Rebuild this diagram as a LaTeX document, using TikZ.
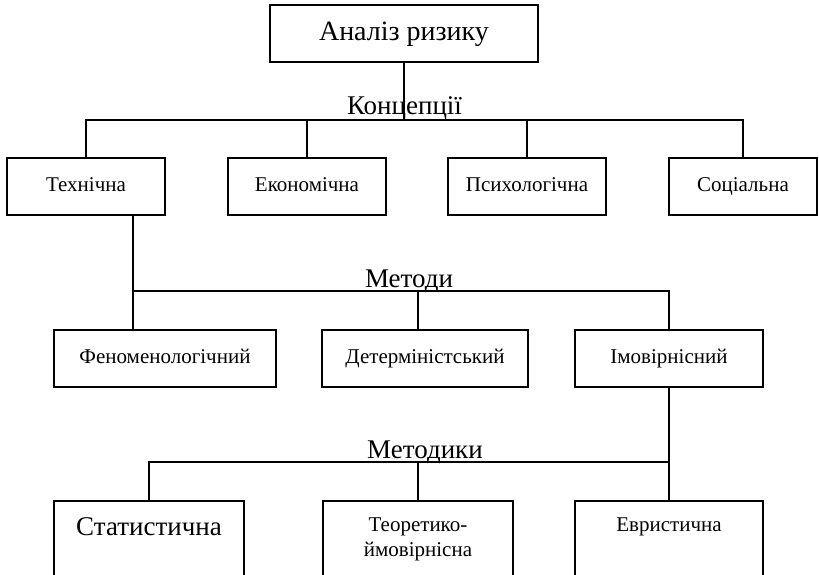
\documentclass[tikz,border=0pt]{standalone}
\usepackage{fontspec}
\setmainfont{Liberation Serif}
\usetikzlibrary{positioning,calc}

\begin{document}
\begin{tikzpicture}[
  x=1pt, y=-1pt,
  line width=2pt,
  box/.style={draw, rectangle, inner sep=0pt, minimum height=57pt,
    text height=14pt, text depth=4pt,
    font=\fontsize{21}{25}\selectfont},
  lowbox/.style={draw, anchor=north, text width=180pt, align=center,
    inner xsep=5pt, inner ysep=17pt, text depth=60pt,
    font=\fontsize{21}{25}\selectfont},
  tag/.style={anchor=base, inner sep=0pt, font=\fontsize{27}{32}\selectfont},
]
  \useasboundingbox (0,0) rectangle (819,575);

  \node[box, minimum width=268pt, text height=19pt, text depth=6pt,
    font=\fontsize{28}{33}\selectfont] (risk) at (404,34) {Аналіз ризику};

  \node[box, minimum width=158pt] (tech) at (86,186) {Технічна};
  \node[box, minimum width=158pt] (econ) at (307,186) {Економічна};
  \node[box, minimum width=158pt] (psych) at (527,186) {Психологічна};
  \node[box, minimum width=148pt] (soc) at (743,186) {Соціальна};

  \node[box, minimum width=222pt] (feno) at (165,358) {Феноменологічний};
  \node[box, minimum width=206pt] (det) at (425,358) {Детерміністський};
  \node[box, minimum width=188pt] (imov) at (669,358) {Імовірнісний};

  \node[lowbox, font=\fontsize{27}{32}\selectfont] (stat) at (149,500) {Статистична};
  \node[lowbox] (teor) at (418,500) {Теоретико-\\ймовірнісна};
  \node[lowbox, text width=178pt] (evr) at (669,500) {Евристична};

  \node[tag] (conc) at (404.5,115) {Концепції};
  \node[tag] (meth) at (409,287) {Методи};
  \node[tag] (tchn) at (425,458) {Методики};

  \coordinate (c1) at (404,120);
  \draw (risk.south) -- (c1);
  \draw (tech.north) |- (c1) -| (soc.north);
  \foreach \n in {econ,psych}
    \draw (\n.north) -- (\n.north |- c1);

  \coordinate (m1) at (133,291);
  \coordinate (m2) at (418,291);
  \draw (tech.south -| m1) -- (m1) -| (imov.north);
  \draw (m1) -- (feno.north -| m1);
  \draw (m2) -- (det.north -| m2);

  \coordinate (t1) at (418,462);
  \draw (stat.north) |- (t1) -| (imov.south);
  \draw (imov.south) -- (evr.north);
  \draw (t1) -- (teor.north);
\end{tikzpicture}
\end{document}
